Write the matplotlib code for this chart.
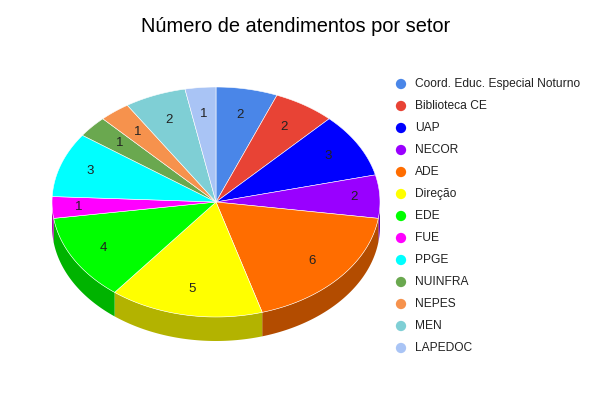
import numpy as np
import matplotlib
matplotlib.use("Agg")
from matplotlib import pyplot as plt
from matplotlib.patches import Polygon
from matplotlib import colors as mcolors

# data
setores = ["Coord. Educ. Especial Noturno", "Biblioteca CE", "UAP", "NECOR", "ADE",
           "Direção", "EDE", "FUE", "PPGE", "NUINFRA", "NEPES", "MEN", "LAPEDOC"]
atendimentos = [2, 2, 3, 2, 6, 5, 4, 1, 3, 1, 1, 2, 1]
cores = ["#4a86e8", "#e84335", "#0000ff", "#9900ff", "#ff6d00", "#ffff00", "#00ff00",
         "#ff00ff", "#00ffff", "#6aa84f", "#f6924d", "#7fcfd5", "#a9c4f5"]
titulo = "Número de atendimentos por setor"

plt.rcParams['font.family'] = ['Liberation Sans', 'DejaVu Sans']

W, H = 593, 393
fig = plt.figure(figsize=(W / 100, H / 100), dpi=100)
ax = fig.add_axes([0, 0, 1, 1])
ax.set_xlim(0, W)
ax.set_ylim(H, 0)
ax.axis('off')

# pie geometry (pixels)
cx, cy = 216, 202
rx, ry = 164, 115
depth = 24


def point(theta, dy=0):
    # theta in degrees, clockwise from 12 o'clock
    t = np.radians(theta)
    return cx + rx * np.sin(t), cy - ry * np.cos(t) + dy


def darker(c, f=0.7):
    r, g, b = mcolors.to_rgb(c)
    return (r * f, g * f, b * f)


total = float(sum(atendimentos))
bounds = np.concatenate([[0], np.cumsum(atendimentos)]) / total * 360

# side walls (front half only: 90..270 deg)
for i in range(len(atendimentos)):
    a0, a1 = max(bounds[i], 90), min(bounds[i + 1], 270)
    if a1 <= a0:
        continue
    th = np.linspace(a0, a1, 60)
    top = [point(t) for t in th]
    bot = [point(t, depth) for t in th[::-1]]
    ax.add_patch(Polygon(top + bot, closed=True, facecolor=darker(cores[i]),
                         edgecolor='none', antialiased=True))

# top faces
for i in range(len(atendimentos)):
    th = np.linspace(bounds[i], bounds[i + 1], 80)
    pts = [(cx, cy)] + [point(t) for t in th]
    ax.add_patch(Polygon(pts, closed=True, facecolor=cores[i], edgecolor='white',
                         linewidth=0.4, antialiased=True))

# value labels - pushed a bit further out near the sides
for i, v in enumerate(atendimentos):
    mid = np.radians((bounds[i] + bounds[i + 1]) / 2)
    f = 0.77 + 0.07 * abs(np.sin(mid)) ** 8
    x = cx + rx * f * np.sin(mid)
    y = cy - ry * f * np.cos(mid)
    ax.text(x, y, str(v), ha='center', va='center', fontsize=9.5, color='#222222')

# title
ax.text(296, 27, titulo, ha='center', va='center', fontsize=14.4, color='#000000')

# legend
for i, nome in enumerate(setores):
    y = 84 + 22 * i
    ax.scatter([401], [y], s=55, color=cores[i], edgecolors='none')
    ax.text(415, y, nome, ha='left', va='center', fontsize=8.65, color='#222222')

plt.savefig("out.png", dpi=100)
